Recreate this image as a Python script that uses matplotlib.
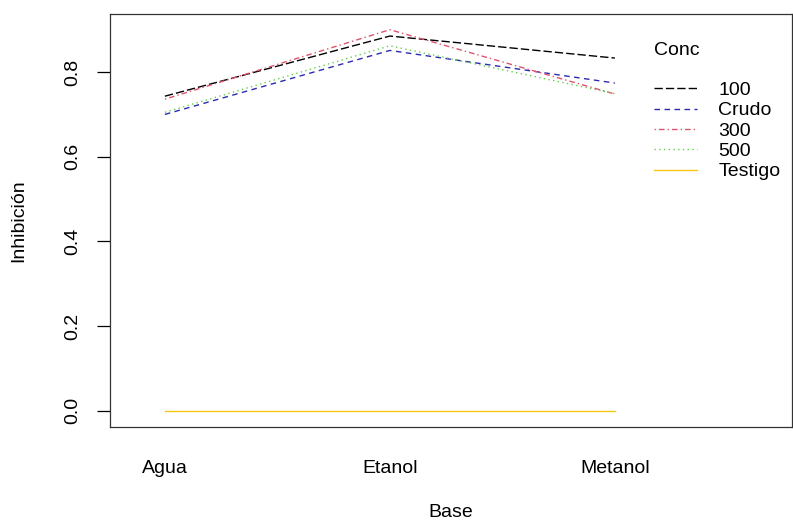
import matplotlib
matplotlib.use("Agg")
import matplotlib.pyplot as plt

plt.rcParams['font.family'] = ['Liberation Sans', 'DejaVu Sans']

# Data
bases = ["Agua", "Etanol", "Metanol"]
conc_labels = ["100", "Crudo", "300", "500", "Testigo"]
v_100 = [0.743, 0.885, 0.833]
v_crudo = [0.700, 0.851, 0.774]
v_300 = [0.736, 0.900, 0.748]
v_500 = [0.705, 0.862, 0.749]
v_testigo = [0.0, 0.0, 0.0]

series = [v_100, v_crudo, v_300, v_500, v_testigo]
colors = ["#000000", "#2B2BB0", "#DF536B", "#61D04F", "#F5C710"]
styles = [(0, (6, 2.2)), (0, (4, 3.2)), (0, (1, 2.2, 4, 2.2)), (0, (1, 2.4)), "-"]

fs = 14

fig = plt.figure(figsize=(7.93, 5.25), dpi=100)
ax = fig.add_axes([0.1387, 0.1867, 0.8600, 0.7866])

x = [1, 2, 3]
for vals, lab, c, ls in zip(series, conc_labels, colors, styles):
    ax.plot(x, vals, color=c, linestyle=ls, linewidth=1.0, label=lab)

ax.set_xlim(0.756, 3.787)
ax.set_ylim(-0.038, 0.937)

ax.set_yticks([0.0, 0.2, 0.4, 0.6, 0.8])
ax.set_yticklabels(["0.0", "0.2", "0.4", "0.6", "0.8"], rotation=90, va="center")
ax.set_xticks(x)
ax.set_xticklabels(bases)
ax.tick_params(axis="x", length=0, pad=24, labelsize=fs)
ax.tick_params(axis="y", length=9.4, width=0.9, pad=11, labelsize=fs)

for side in ["top", "right", "bottom", "left"]:
    ax.spines[side].set_linewidth(0.9)
    ax.spines[side].set_color("#333333")

ax.set_xlabel("Base", fontsize=fs, labelpad=19)
ax.set_ylabel("Inhibición", fontsize=fs, labelpad=27)

leg = ax.legend(title="Conc\n", loc="upper left", bbox_to_anchor=(0.798, 0.932),
                frameon=False, fontsize=fs, title_fontsize=fs,
                handlelength=2.2, handletextpad=1.1, labelspacing=0.14,
                alignment="left", borderaxespad=0, borderpad=0)

fig.savefig("out.png", dpi=100)
